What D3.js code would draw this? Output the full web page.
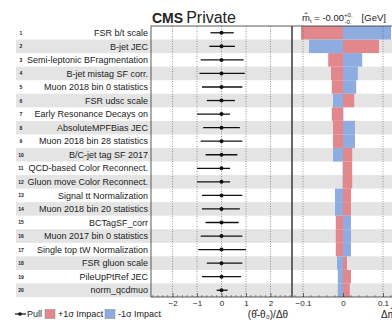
<!DOCTYPE html>
<html>
<head>
<meta charset="utf-8">
<script src="https://cdn.jsdelivr.net/npm/d3@7"></script>
<style>
  body { margin: 0; background: #fff; }
  svg text { font-family: "Liberation Sans", Arial, sans-serif; fill: #222; }
</style>
</head>
<body>
<script>
// nuisance parameters, top to bottom
const labels = [
  "FSR b/t scale", "B-jet JEC", "Semi-leptonic BFragmentation", "B-jet mistag SF corr.",
  "Muon 2018 bin 0 statistics", "FSR udsc scale", "Early Resonance Decays on",
  "AbsoluteMPFBias JEC", "Muon 2018 bin 28 statistics", "B/C-jet tag SF 2017",
  "QCD-based Color Reconnect.", "Gluon move Color Reconnect.", "Signal tt Normalization",
  "Muon 2018 bin 20 statistics", "BCTagSF_corr", "Muon 2017 bin 0 statistics",
  "Single top tW Normalization", "FSR gluon scale", "PileUpPtRef JEC", "norm_qcdmuo"
];
const pulls   = [0,0,0,0,0,0,0,0,0,0,0,0,0,0,0,0,0,0,0,0];
const pullLo  = [-0.45,-0.5,-0.85,-0.9,-0.8,-0.6,-1.0,-0.75,-0.85,-0.65,-1.0,-1.0,-0.8,-0.8,-0.65,-0.85,-0.95,-0.6,-0.8,-0.2];
const pullHi  = [0.5,0.55,0.9,0.95,0.85,0.55,0.35,0.75,0.85,0.65,0.35,0.35,0.85,0.75,0.7,0.85,1.0,0.85,0.8,0.25];
const impUp   = [-0.105,0.09,-0.037,-0.03,-0.028,0.028,-0.028,-0.025,-0.025,0.023,0.023,0.023,0.02,0.02,-0.018,-0.018,-0.018,0.01,0.02,0.017];
const impDown = [0.12,-0.085,0.048,0.037,0.033,-0.025,0.001,0.03,0.03,-0.025,-0.001,-0.001,-0.02,-0.02,0.02,0.02,0.02,-0.015,-0.013,-0.013];
const pullTicks = [-2,-1,0,1,2];
const impTicks = [-0.1,0,0.1];

const W = 392, H = 322;
const frameTop = 26, frameBottom = 297;
const redCol = "#e2888d", blueCol = "#8eacdf";

const svg = d3.select("body").append("svg")
    .attr("width", W)
    .attr("height", H);

const y = d3.scaleBand()
    .domain(d3.range(labels.length))
    .range([frameTop, frameBottom]);

const xPull = d3.scaleLinear().domain([-2.88, 2.88]).range([151, 292]);
const xImp = d3.scaleLinear().domain([-0.1275, 0.1275]).range([292, 394]);

// stripes
svg.selectAll(".stripe")
    .data(d3.range(labels.length).filter(i => i % 2 == 1))
    .enter()
    .append("rect")
    .attr("x", 16)
    .attr("y", i => y(i))
    .attr("width", W - 16)
    .attr("height", y.bandwidth())
    .attr("fill", "#e4e4e4");

// row numbers + labels
svg.selectAll(".num")
    .data(labels)
    .enter()
    .append("text")
    .attr("x", 21)
    .attr("y", (d, i) => y(i) + y.bandwidth() / 2 + 2)
    .attr("text-anchor", "middle")
    .attr("font-size", 5)
    .attr("font-weight", "bold")
    .text((d, i) => i + 1);

svg.selectAll(".lab")
    .data(labels)
    .enter()
    .append("text")
    .attr("x", 148)
    .attr("y", (d, i) => y(i) + y.bandwidth() / 2 + 3.2)
    .attr("text-anchor", "end")
    .attr("font-size", 9)
    .text(d => d);

// impact bars
const impG = svg.append("g");
impG.selectAll(".up")
    .data(impUp)
    .enter()
    .append("rect")
    .attr("x", d => Math.min(xImp(0), xImp(d)))
    .attr("y", (d, i) => y(i))
    .attr("width", d => Math.abs(xImp(d) - xImp(0)))
    .attr("height", y.bandwidth())
    .attr("fill", redCol);
impG.selectAll(".down")
    .data(impDown)
    .enter()
    .append("rect")
    .attr("x", d => Math.min(xImp(0), xImp(d)))
    .attr("y", (d, i) => y(i))
    .attr("width", d => Math.abs(xImp(d) - xImp(0)))
    .attr("height", y.bandwidth())
    .attr("fill", blueCol);

// dotted grid
svg.selectAll(".gp")
    .data(pullTicks)
    .enter()
    .append("line")
    .attr("x1", d => xPull(d)).attr("x2", d => xPull(d))
    .attr("y1", frameTop).attr("y2", frameBottom)
    .attr("stroke", "#555").attr("stroke-width", 0.6)
    .attr("stroke-dasharray", "1,1.5");
svg.selectAll(".gi")
    .data(impTicks.filter(d => d != 0))
    .enter()
    .append("line")
    .attr("x1", d => xImp(d)).attr("x2", d => xImp(d))
    .attr("y1", frameTop).attr("y2", frameBottom)
    .attr("stroke", "#555").attr("stroke-width", 0.6)
    .attr("stroke-dasharray", "1,1.5");

// pulls
svg.selectAll(".err")
    .data(pulls)
    .enter()
    .append("line")
    .attr("x1", (d, i) => xPull(d + pullLo[i]))
    .attr("x2", (d, i) => xPull(d + pullHi[i]))
    .attr("y1", (d, i) => y(i) + y.bandwidth() / 2)
    .attr("y2", (d, i) => y(i) + y.bandwidth() / 2)
    .attr("stroke", "#111").attr("stroke-width", 1.3);
svg.selectAll(".pt")
    .data(pulls)
    .enter()
    .append("circle")
    .attr("cx", d => xPull(d))
    .attr("cy", (d, i) => y(i) + y.bandwidth() / 2)
    .attr("r", 2)
    .attr("fill", "#111");

// frames
svg.append("rect")
    .attr("x", 151).attr("y", frameTop)
    .attr("width", W + 5 - 151).attr("height", frameBottom - frameTop)
    .attr("fill", "none").attr("stroke", "#333").attr("stroke-width", 0.8);
svg.append("line")
    .attr("x1", 292).attr("x2", 292)
    .attr("y1", frameTop).attr("y2", frameBottom)
    .attr("stroke", "#444").attr("stroke-width", 1.6);

// axes
const axP = svg.append("g")
    .attr("transform", `translate(0,${frameBottom})`)
    .call(d3.axisBottom(xPull).tickValues(pullTicks).tickSize(-4).tickPadding(3).tickFormat(d3.format("d")));
const axI = svg.append("g")
    .attr("transform", `translate(0,${frameBottom})`)
    .call(d3.axisBottom(xImp).tickValues(impTicks).tickSize(-4).tickPadding(3).tickFormat(d => d == 0 ? "0" : d3.format(".1f")(d)));
[axP, axI].forEach(a => {
  a.select(".domain").remove();
  a.selectAll("line").attr("stroke", "#333").attr("stroke-width", 0.7);
  a.selectAll("text").attr("font-size", 8).attr("font-family", "Liberation Sans").attr("fill", "#222");
});
// minor ticks
svg.selectAll(".mp")
    .data(d3.range(-2.8, 2.81, 0.2).filter(v => Math.abs(v - Math.round(v)) > 0.01))
    .enter()
    .append("line")
    .attr("x1", d => xPull(d)).attr("x2", d => xPull(d))
    .attr("y1", frameBottom).attr("y2", frameBottom - 2)
    .attr("stroke", "#333").attr("stroke-width", 0.5);
svg.selectAll(".mi")
    .data(d3.range(-0.12, 0.121, 0.02).filter(v => Math.abs(v * 10 - Math.round(v * 10)) > 0.01))
    .enter()
    .append("line")
    .attr("x1", d => xImp(d)).attr("x2", d => xImp(d))
    .attr("y1", frameBottom).attr("y2", frameBottom - 2)
    .attr("stroke", "#333").attr("stroke-width", 0.5);

// header
const hdr = svg.append("text").attr("x", 152).attr("y", 23).attr("font-size", 14);
hdr.append("tspan").attr("font-weight", "bold").text("CMS");
hdr.append("tspan").attr("dx", 3).attr("font-size", 16).text("Private");

const mt = svg.append("text").attr("x", 302).attr("y", 21).attr("font-size", 9.5);
mt.append("tspan").text("m\u0302");
mt.append("tspan").attr("font-size", 6).attr("dy", 2).text("t");
mt.append("tspan").attr("dy", -2).text(" = -0.00");
mt.append("tspan").attr("font-size", 6).attr("dy", -4).text("+0.");
mt.append("tspan").attr("font-size", 6).attr("dx", -8).attr("dy", 7).text("-0.");
mt.append("tspan").attr("dx", 10).attr("dy", -3).text("[GeV]");

// axis titles
svg.append("text")
    .attr("x", 268).attr("y", 318)
    .attr("text-anchor", "middle")
    .attr("font-size", 10)
    .attr("font-family", "Liberation Serif")
    .text("(\u03B8\u0302-\u03B8\u2080)/\u0394\u03B8");
svg.append("text")
    .attr("x", 381).attr("y", 318)
    .attr("font-size", 10)
    .attr("font-family", "Liberation Serif")
    .text("\u0394m\u0302\u209C [GeV]");

// legend
const lg = svg.append("g").attr("transform", "translate(0,314)");
lg.append("line").attr("x1", 15).attr("x2", 26).attr("y1", 0).attr("y2", 0).attr("stroke", "#111").attr("stroke-width", 1.2);
lg.append("circle").attr("cx", 20).attr("cy", 0).attr("r", 1.8).attr("fill", "#111");
lg.append("text").attr("x", 27).attr("y", 3.2).attr("font-size", 9).text("Pull");
lg.append("rect").attr("x", 45).attr("y", -4.5).attr("width", 10).attr("height", 9).attr("fill", redCol).attr("stroke", "#888").attr("stroke-width", 0.5);
lg.append("text").attr("x", 58).attr("y", 3.2).attr("font-size", 9).text("+1\u03C3 Impact");
lg.append("rect").attr("x", 105).attr("y", -4.5).attr("width", 10).attr("height", 9).attr("fill", blueCol).attr("stroke", "#888").attr("stroke-width", 0.5);
lg.append("text").attr("x", 118).attr("y", 3.2).attr("font-size", 9).text("-1\u03C3 Impact");
</script>
</body>
</html>
